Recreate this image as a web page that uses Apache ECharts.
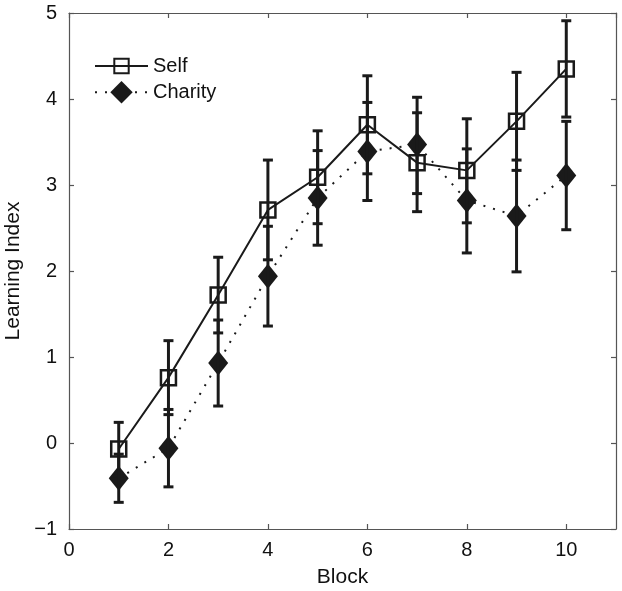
<!DOCTYPE html>
<html><head><meta charset="utf-8">
<script src="https://cdn.jsdelivr.net/npm/echarts@6/dist/echarts.min.js"></script>
<style>html,body{margin:0;padding:0;background:#fff}#c{width:622px;height:591px}</style>
</head><body><div id="c"></div>
<script>
const blocks = [1,2,3,4,5,6,7,8,9,10];
const selfMean = [-0.07,0.76,1.72,2.71,3.09,3.70,3.26,3.17,3.74,4.35];
const selfLow = [-0.38,0.33,1.28,2.13,2.55,3.13,2.69,2.56,3.17,3.79];
const selfHigh = [0.24,1.19,2.16,3.29,3.63,4.27,3.84,3.77,4.31,4.91];
const charityMean = [-0.41,-0.06,0.93,1.94,2.85,3.39,3.47,2.82,2.64,3.11];
const charityLow = [-0.69,-0.51,0.43,1.36,2.30,2.82,2.90,2.21,1.99,2.48];
const charityHigh = [-0.13,0.39,1.43,2.52,3.40,3.96,4.02,3.42,3.29,3.74];

const FONT = '"Liberation Sans", Arial, sans-serif';
const INK = '#1a1a1a';

function errRender(params, api) {
  const x = api.value(0), lo = api.value(1), hi = api.value(2);
  const p1 = api.coord([x, lo]), p2 = api.coord([x, hi]);
  const w = 5;
  const st = {stroke: INK, lineWidth: 3};
  return {type: 'group', children: [
    {type: 'line', shape: {x1: p1[0], y1: p1[1], x2: p2[0], y2: p2[1]}, style: st},
    {type: 'line', shape: {x1: p1[0]-w, y1: p1[1], x2: p1[0]+w, y2: p1[1]}, style: st},
    {type: 'line', shape: {x1: p2[0]-w, y1: p2[1], x2: p2[0]+w, y2: p2[1]}, style: st}
  ]};
}

const axisLineStyle = {color: '#555', width: 1.2};
const legendText = {fontFamily: FONT, fontSize: 20, color: '#111'};
const chart = echarts.init(document.getElementById('c'), null, {renderer: 'canvas'});
chart.setOption({
  animation: false,
  backgroundColor: '#fff',
  grid: {left: 69, right: 6, top: 13, bottom: 62, containLabel: false, outerBoundsMode: 'none'},
  legend: [{
    orient: 'vertical', left: 89, top: 51, padding: 5,
    itemWidth: 53, itemHeight: 18, itemGap: 0,
    data: ['Self'], textStyle: legendText
  }, {
    orient: 'vertical', left: 89, top: 76, padding: 5,
    itemWidth: 53, itemHeight: 28, itemGap: 0,
    data: ['Charity'], textStyle: legendText
  }],
  xAxis: [{
    type: 'value', min: 0, max: 11, interval: 2,
    name: 'Block', nameLocation: 'middle', nameGap: 38,
    nameTextStyle: {fontFamily: FONT, fontSize: 21, color: '#111'},
    axisLine: {show: true, onZero: false, lineStyle: axisLineStyle},
    axisTick: {show: true, inside: true, length: 5, lineStyle: axisLineStyle},
    axisLabel: {fontFamily: FONT, fontSize: 20, color: '#111', margin: 11, showMaxLabel: false,
      formatter: v => (v > 10 ? '' : String(v))},
    splitLine: {show: false}
  }, {
    type: 'value', position: 'top', min: 0, max: 11, interval: 2,
    axisLine: {show: true, onZero: false, lineStyle: axisLineStyle},
    axisTick: {show: true, inside: true, length: 5, lineStyle: axisLineStyle},
    axisLabel: {show: false}, splitLine: {show: false}
  }],
  yAxis: [{
    type: 'value', min: -1, max: 5, interval: 1,
    name: 'Learning Index', nameLocation: 'middle', nameGap: 33,
    nameTextStyle: {fontFamily: FONT, fontSize: 21, color: '#111'},
    axisLine: {show: true, onZero: false, lineStyle: axisLineStyle},
    axisTick: {show: true, inside: true, length: 5, lineStyle: axisLineStyle},
    axisLabel: {fontFamily: FONT, fontSize: 20, color: '#111', margin: 12,
      formatter: v => String(v).replace('-', '\u2212')},
    splitLine: {show: false}
  }, {
    type: 'value', position: 'right', min: -1, max: 5, interval: 1,
    axisLine: {show: true, onZero: false, lineStyle: axisLineStyle},
    axisTick: {show: true, inside: true, length: 5, lineStyle: axisLineStyle},
    axisLabel: {show: false}, splitLine: {show: false}
  }],
  series: [
    {
      name: 'Self', type: 'line', z: 2,
      data: blocks.map((b, i) => [b, selfMean[i]]),
      symbol: 'rect', symbolSize: 15,
      lineStyle: {color: INK, width: 2},
      itemStyle: {color: 'rgba(255,255,255,0)', borderColor: INK, borderWidth: 2.5}
    },
    {
      name: 'Charity', type: 'line', z: 2,
      data: blocks.map((b, i) => [b, charityMean[i]]),
      symbol: 'diamond', symbolSize: [20, 25],
      lineStyle: {color: INK, width: 2, type: [2, 8]},
      itemStyle: {color: INK, borderColor: INK, borderWidth: 0}
    },
    {
      name: 'selfErr', type: 'custom', z: 3,
      renderItem: errRender,
      encode: {x: 0, y: [1, 2]},
      data: blocks.map((b, i) => [b, selfLow[i], selfHigh[i]])
    },
    {
      name: 'charityErr', type: 'custom', z: 3,
      renderItem: errRender,
      encode: {x: 0, y: [1, 2]},
      data: blocks.map((b, i) => [b, charityLow[i], charityHigh[i]])
    }
  ]
});
</script>
</body></html>
